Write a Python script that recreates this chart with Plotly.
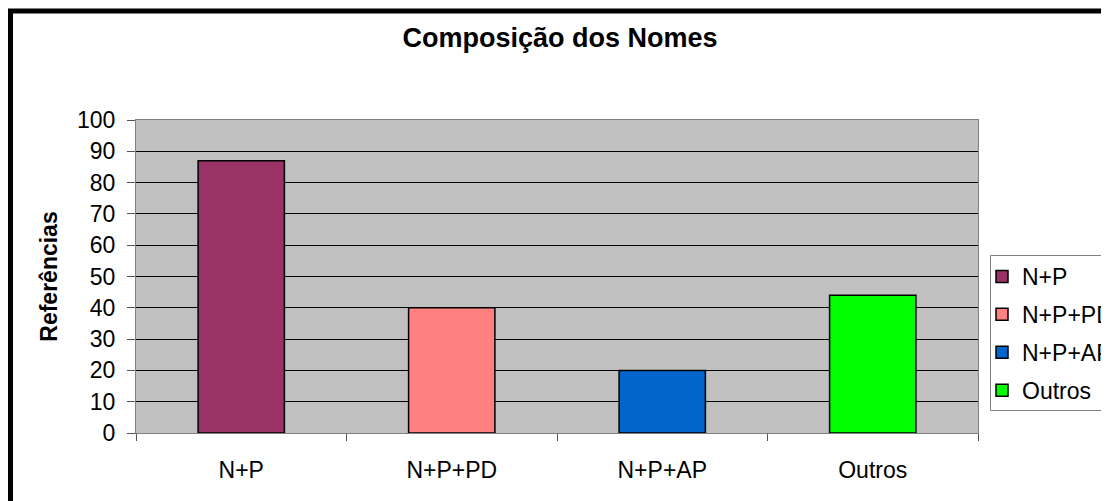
import plotly.graph_objects as go

# ---------------------------------------------------------------------
# Data
# ---------------------------------------------------------------------
categories = ["N+P", "N+P+PD", "N+P+AP", "Outros"]
referencias = [87, 40, 20, 44]
bar_colors = ["#993366", "#FF8080", "#0066CC", "#00FF00"]
y_ticks = list(range(0, 101, 10))

# ---------------------------------------------------------------------
# Layout geometry (page pixels; the page body adds an 8px offset)
# ---------------------------------------------------------------------
OFF = 8
W, H = 1109 - OFF, 501 - OFF
L, R, T, B = 136 - OFF, 131, 120 - OFF, 68
pw, ph = W - L - R, H - T - B

def px_x(x):
    return (x - OFF - L) / pw

def px_y(y):
    return (H - B - (y - OFF)) / ph

FONT = "Arial, Liberation Sans, sans-serif"

fig = go.Figure()
for cat, val, col in zip(categories, referencias, bar_colors):
    fig.add_trace(go.Bar(
        x=[cat], y=[val], name=cat, width=0.41,
        legendgroup=cat,
        marker=dict(color=col, line=dict(color="black", width=1.5)),
    ))

fig.update_layout(
    width=W, height=H,
    margin=dict(l=L, r=R, t=T, b=B, autoexpand=False),
    paper_bgcolor="white",
    plot_bgcolor="#C0C0C0",
    barmode="overlay",
    font=dict(family=FONT, size=23, color="black"),
    title=dict(text="<b>Composição dos Nomes</b>", x=px_x(560), xref="paper",
               xanchor="center", y=1 - (38 - OFF) / H, yanchor="middle",
               font=dict(size=27)),
    legend=dict(x=px_x(982), y=px_y(255), xanchor="left", yanchor="top",
                borderwidth=0, bgcolor="rgba(0,0,0,0)",
                tracegroupgap=5, font=dict(size=23)),
    showlegend=True,
)

fig.update_xaxes(
    categoryorder="array", categoryarray=categories,
    showline=True, linecolor="#808080", linewidth=1, mirror=True,
    ticks="outside", tickson="boundaries", ticklen=7, tickcolor="#555555",
    ticklabelstandoff=16, showgrid=False,
)
fig.update_yaxes(
    range=[0, 100], tickvals=y_ticks,
    showline=True, linecolor="#808080", linewidth=1, mirror=True,
    ticks="outside", ticklen=8, tickcolor="#555555",
    ticklabelstandoff=7,
    showgrid=True, gridcolor="black", gridwidth=1, zeroline=False,
    title=dict(text="<b>Referências</b>", standoff=12, font=dict(size=23)),
)

# outer chart border, cut off at right and bottom
fig.add_shape(type="rect", xref="paper", yref="paper",
              x0=px_x(10.5), y0=px_y(512), x1=px_x(1120), y1=px_y(11),
              line=dict(color="black", width=5), layer="below")

# legend frame (cut off at the right edge)
fig.add_shape(type="rect", xref="paper", yref="paper",
              x0=px_x(990.5), y0=px_y(410.5), x1=px_x(1125), y1=px_y(255.5),
              line=dict(color="#808080", width=1), fillcolor="white",
              layer="below")

fig.write_html("out.html")
